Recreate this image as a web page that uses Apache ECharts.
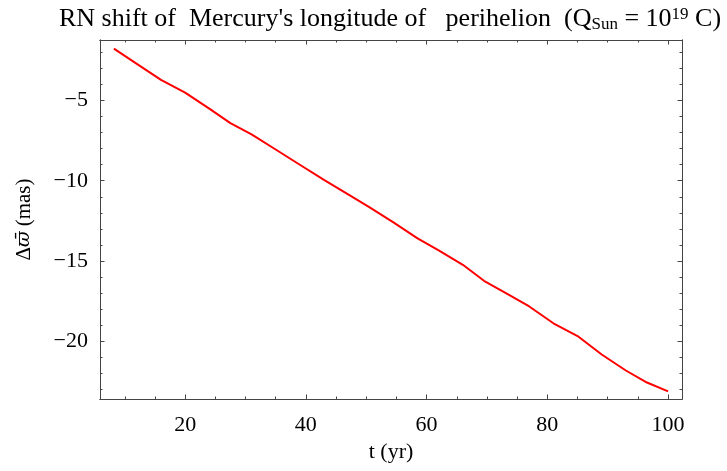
<!DOCTYPE html>
<html><head><meta charset="utf-8">
<script src="https://cdn.jsdelivr.net/npm/echarts@6/dist/echarts.min.js"></script>
<style>html,body{margin:0;padding:0;background:#fff}#c{width:727px;height:471px}</style>
</head><body><div id="c"></div>
<script>
const tValues = [8.2, 12, 16, 20, 24, 27.5, 31, 35, 39, 43, 47, 50.5, 54.5, 58.5, 62, 66, 69.5, 73.5, 77, 81, 85, 89, 93, 96.5, 100];
const shiftValues = [-1.75, -2.7, -3.7, -4.5, -5.5, -6.4, -7.1, -8.05, -9.0, -9.95, -10.85, -11.65, -12.6, -13.6, -14.35, -15.25, -16.25, -17.1, -17.85, -18.9, -19.7, -20.85, -21.85, -22.6, -23.15];
const xMajorTicks = [20, 40, 60, 80, 100];
const xMinorTicks = [10, 15, 25, 30, 35, 45, 50, 55, 65, 70, 75, 85, 90, 95];
const yMajorTicks = [-5, -10, -15, -20];
const yMinorTicks = [-2, -3, -4, -6, -7, -8, -9, -11, -12, -13, -14, -16, -17, -18, -19, -21, -22, -23];
const xRange = [5.9, 102.3];
const yRange = [-23.63, -1.21];

const FONT = '"Liberation Serif", "DejaVu Serif", serif';
const AX = '#444';
function xAxisDef(pos, ticks, len, labels) {
  return {
    type: 'value', position: pos, min: xRange[0], max: xRange[1],
    axisLine: { show: true, onZero: false, lineStyle: { color: AX, width: 1 } },
    axisTick: { show: true, inside: true, length: len, customValues: ticks, lineStyle: { color: AX } },
    axisLabel: labels ? { show: true, customValues: xMajorTicks, color: '#000', fontFamily: FONT, fontSize: 22, margin: 15 } : { show: false },
    splitLine: { show: false },
    name: labels ? 't (yr)' : '', nameLocation: 'middle', nameGap: 41,
    nameTextStyle: { color: '#000', fontFamily: FONT, fontSize: 22 }
  };
}
function yAxisDef(pos, ticks, len, labels) {
  return {
    type: 'value', position: pos, min: yRange[0], max: yRange[1],
    axisLine: { show: true, onZero: false, lineStyle: { color: AX, width: 1 } },
    axisTick: { show: true, inside: true, length: len, customValues: ticks, lineStyle: { color: AX } },
    axisLabel: labels ? { show: true, customValues: yMajorTicks, color: '#000', fontFamily: FONT, fontSize: 22, margin: 12,
      formatter: v => String(v).replace('-', '\u2212') } : { show: false },
    splitLine: { show: false },
    name: labels ? '\u0394{w|\u03D6\u0304} (mas)' : '', nameLocation: 'middle', nameGap: 65, nameRotate: 90,
    nameTextStyle: { color: '#000', fontFamily: FONT, fontSize: 21,
      rich: { w: { fontFamily: '"DejaVu Serif", serif', fontStyle: 'italic', fontSize: 19, color: '#000' } } }
  };
}
const chart = echarts.init(document.getElementById('c'), null, { renderer: 'canvas' });
chart.setOption({
  animation: false,
  backgroundColor: '#fff',
  title: {
    text: "RN shift of  Mercury's longitude of   perihelion  (Q{sub|Sun} = 10{sup|19} C)",
    left: 385, top: 1, textAlign: 'center',
    textStyle: {
      color: '#000', fontFamily: FONT, fontSize: 26, fontWeight: 'normal',
      rich: {
        sub: { fontFamily: FONT, fontSize: 17, verticalAlign: 'bottom', color: '#000', padding: [9, 0, 0, 0] },
        sup: { fontFamily: FONT, fontSize: 17, verticalAlign: 'top', color: '#000', padding: [0, 0, 10, 0] }
      }
    }
  },
  grid: { left: 100, right: 45, top: 40, bottom: 72, containLabel: false },
  xAxis: [
    xAxisDef('bottom', xMajorTicks, 4.5, true),
    xAxisDef('bottom', xMinorTicks, 2.5, false),
    xAxisDef('top', xMajorTicks, 4.5, false),
    xAxisDef('top', xMinorTicks, 2.5, false)
  ],
  yAxis: [
    yAxisDef('left', yMajorTicks, 4.5, true),
    yAxisDef('left', yMinorTicks, 2.5, false),
    yAxisDef('right', yMajorTicks, 4.5, false),
    yAxisDef('right', yMinorTicks, 2.5, false)
  ],
  series: [{
    type: 'line', xAxisIndex: 0, yAxisIndex: 0,
    data: tValues.map((t, i) => [t, shiftValues[i]]),
    showSymbol: false, smooth: false,
    lineStyle: { color: '#ff0000', width: 2 }
  }]
});
</script></body></html>
